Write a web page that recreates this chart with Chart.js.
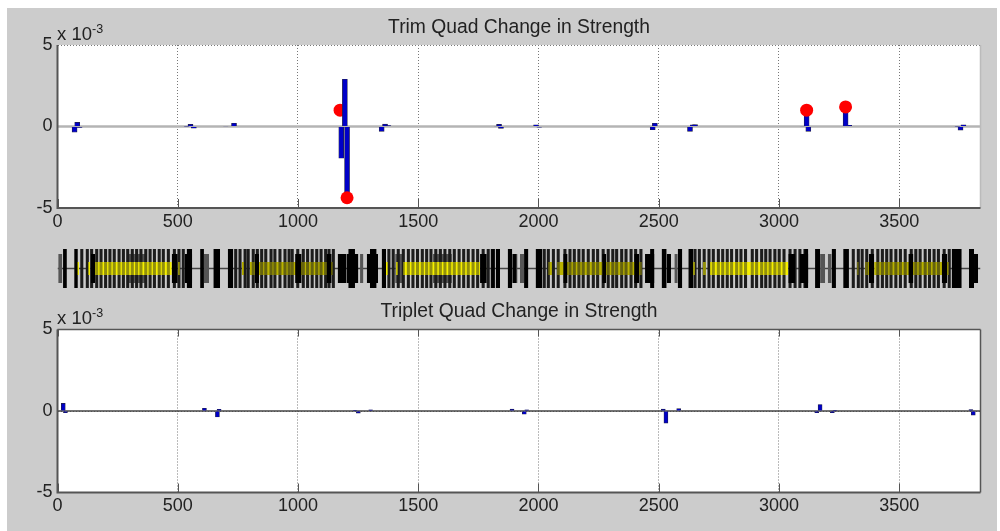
<!DOCTYPE html>
<html>
<head>
<meta charset="utf-8">
<script src="https://cdn.jsdelivr.net/npm/chart.js"></script>
<style>
    html, body { margin: 0; background: #fff; overflow: hidden; }
    #panel { position: absolute; left: 7px; top: 8px; width: 990px; height: 523px; background: #cccccc; }
    canvas { position: absolute; left: 7px; filter: blur(0.45px); }
    .exp { position: absolute; left: 57px; font: 18.5px "Liberation Sans", Arial, sans-serif; color: #222; filter: blur(0.3px); white-space: nowrap; }
    .exp sup { font-size: 12.5px; line-height: 0; }
</style>
</head>
<body>
<div id="panel"></div>
<canvas id="trimChart" width="990" height="225" style="top:8px"></canvas>
<canvas id="latticeChart" width="990" height="39" style="top:249px"></canvas>
<canvas id="tripletChart" width="990" height="231" style="top:300px"></canvas>
<div class="exp" style="top:23px">x 10<sup>-3</sup></div>
<div class="exp" style="top:307px">x 10<sup>-3</sup></div>
<script>
const xMax = 3838;
const xTicks = [0, 500, 1000, 1500, 2000, 2500, 3000, 3500];

// strength change, in units of 1e-3
const trimS = [71, 82, 92, 537, 553, 567, 700, 734, 1180, 1195, 1204, 1348, 1362, 1376, 1826, 1836, 1844, 1990, 2003, 2475, 2484, 2630, 2642, 2651, 3098, 3115, 3122, 3277, 3292, 3742, 3755, 3767];
const trimValues = [-0.35, 0.25, -0.05, 0.02, 0.13, -0.1, -0.03, 0.2, -1.95, 2.9, -4.37, -0.3, 0.15, 0.05, 0.03, 0.13, -0.12, 0.1, -0.04, -0.2, 0.2, -0.3, 0.1, 0.12, 0.03, 1.0, -0.3, 1.15, 0.07, 0.02, -0.22, 0.1];
const redBackS = [1175];
const redBackValues = [1.0];
const redFrontS = [1204, 3115, 3277];
const redFrontValues = [-4.37, 1.0, 1.2];

const tripletS = [24, 33, 611, 665, 672, 1237, 1251, 1302, 1890, 1941, 1951, 2519, 2530, 2583, 3157, 3171, 3222, 3233, 3798, 3808];
const tripletValues = [0.47, -0.1, 0.17, -0.37, 0.1, 0.02, -0.13, 0.07, 0.12, -0.2, 0.07, 0.12, -0.74, 0.15, -0.1, 0.4, -0.1, 0.02, 0.08, -0.25];

// lattice magnets along s
const magnetS = [
    77, 101, 124, 142, 163, 181, 200, 218, 236, 256, 274, 292, 311, 329, 347, 367, 385, 403, 423, 440, 461, 486, 505, 523, 548,
    717, 741, 759, 780, 793, 814, 831, 849, 866, 888, 904, 925, 946, 963, 976, 999, 1022, 1040, 1059, 1078, 1096, 1115, 1129, 1147,
    1358, 1378, 1396, 1417, 1438, 1459, 1478, 1497, 1517, 1535, 1553, 1573, 1592, 1611, 1631, 1650, 1670, 1689, 1708, 1728, 1747, 1770, 1791, 1808, 1830,
    2002, 2024, 2041, 2062, 2082, 2110, 2131, 2149, 2168, 2186, 2207, 2228, 2246, 2269, 2290, 2309, 2325, 2346, 2364, 2385, 2404, 2426,
    2630, 2651, 2669, 2689, 2709, 2727, 2748, 2766, 2785, 2803, 2824, 2842, 2861, 2889, 2907, 2928, 2945, 2963, 2983, 3001, 3021, 3046, 3067, 3087, 3108,
    3281, 3309, 3330, 3346, 3365, 3388, 3411, 3430, 3448, 3466, 3486, 3505, 3525, 3550, 3569, 3587, 3608, 3626, 3645, 3663, 3687, 3708
];
const tallBlocks = [[23, 39], [70, 84], [537, 560], [593, 609], [648, 676], [708, 731], [1209, 1237], [1299, 1327], [1348, 1366], [1803, 1819], [1822, 1840], [1872, 1891], [1940, 1958], [1988, 2016], [2464, 2482], [2512, 2533], [2579, 2598], [2626, 2644], [3105, 3122], [3150, 3171], [3219, 3237], [3267, 3291], [3718, 3760], [3790, 3811]];
const midBlocks = [[139, 156], [475, 500], [530, 560], [821, 838], [988, 1015], [1119, 1140], [1165, 1202], [1202, 1251], [1286, 1333], [1757, 1785], [1891, 1909], [2103, 2121], [2265, 2282], [2398, 2418], [2443, 2482], [2533, 2551], [3039, 3067], [3087, 3122], [3374, 3396], [3538, 3559], [3677, 3700], [3811, 3828]];
const grayBlocks = [[3, 20], [288, 364], [609, 630], [1258, 1272], [1404, 1437], [1561, 1640], [1902, 1913], [1923, 1940], [2565, 2579], [3171, 3192], [3203, 3219]];
const brightYellow = [[81, 89], [127, 135], [156, 475], [500, 509], [1362, 1374], [1408, 1416], [1437, 1757], [1785, 1786], [2643, 2651], [2684, 2696], [2713, 3039]];
const dimYellow = [[767, 776], [800, 1145], [2040, 2056], [2077, 2430], [3324, 3332], [3358, 3383], [3396, 3708]];

const fontFamily = '"Liberation Sans", Arial, sans-serif';

function toPoints(xs, ys) {
    return xs.map(function (x, i) { return { x: x, y: ys[i] }; });
}

// draws the frame and the inward ticks like the original plots
const framePlugin = {
    id: 'frame',
    afterDatasetsDraw: function (chart, args, opts) {
        const area = chart.chartArea;
        const c = chart.ctx;
        const x = chart.scales.x;
        c.save();
        c.strokeStyle = '#555';
        c.lineWidth = 1;
        x.ticks.forEach(function (t) {
            const px = Math.round(x.getPixelForValue(t.value)) + 0.5;
            c.beginPath();
            c.moveTo(px, area.bottom);
            c.lineTo(px, area.bottom - 9);
            if (opts.topTicks) {
                c.moveTo(px, area.top);
                c.lineTo(px, area.top + 7);
            }
            c.stroke();
        });
        c.lineWidth = 1.5;
        c.strokeStyle = opts.rightColor;
        c.beginPath();
        c.moveTo(area.right, area.top);
        c.lineTo(area.right, area.bottom);
        c.stroke();
        if (opts.topColor) {
            c.strokeStyle = opts.topColor;
            c.beginPath();
            c.moveTo(area.left, area.top);
            c.lineTo(area.right, area.top);
            c.stroke();
        }
        c.strokeStyle = '#555';
        c.lineWidth = 2;
        c.beginPath();
        c.moveTo(area.left, area.top);
        c.lineTo(area.left, area.bottom);
        c.lineTo(area.right, area.bottom);
        c.stroke();
        c.restore();
    }
};

const whitePlot = {
    id: 'whitePlot',
    beforeDraw: function (chart) {
        const a = chart.chartArea;
        chart.ctx.fillStyle = '#fff';
        chart.ctx.fillRect(a.left, a.top, a.width, a.height);
    }
};

function plotOptions(title, titlePad, bottomHeight, frame) {
    return {
        responsive: false,
        animation: false,
        layout: { padding: { left: 0, right: 16.5, top: 0, bottom: 0 } },
        plugins: {
            legend: { display: false },
            tooltip: { enabled: false },
            frame: frame,
            title: {
                display: true,
                text: title,
                fullSize: false,
                color: '#222',
                padding: titlePad,
                font: { family: fontFamily, size: 19.3, weight: 'normal', lineHeight: 1 }
            }
        },
        scales: {
            x: {
                type: 'linear',
                min: 0,
                max: xMax,
                offset: false,
                afterFit: function (scale) { scale.height = bottomHeight; },
                afterBuildTicks: function (scale) {
                    scale.ticks = xTicks.map(function (v) { return { value: v }; });
                },
                grid: { offset: false, drawTicks: false, color: '#777' },
                border: { display: false, dash: [1, 2] },
                ticks: {
                    autoSkip: false,
                    maxRotation: 0,
                    padding: 3,
                    color: '#222',
                    font: { family: fontFamily, size: 18 },
                    callback: function (v) { return String(v); }
                }
            },
            y: {
                min: -5,
                max: 5,
                afterFit: function (scale) { scale.width = 50.5; },
                grid: { drawTicks: false, color: '#777' },
                border: { display: false, dash: [1, 2] },
                ticks: { stepSize: 5, padding: 5, color: '#222', font: { family: fontFamily, size: 18 } }
            }
        }
    };
}

new Chart(document.getElementById('trimChart'), {
    type: 'bar',
    data: {
        datasets: [
            { type: 'scatter', data: toPoints(redFrontS, redFrontValues), backgroundColor: '#ff0000', borderWidth: 0, pointRadius: 6.5, order: 1 },
            { data: toPoints(trimS, trimValues), backgroundColor: '#0000c8', borderColor: '#222244', borderWidth: 0.7, barThickness: 5, grouped: false, order: 2 },
            { type: 'scatter', data: toPoints(redBackS, redBackValues), backgroundColor: '#ff0000', borderWidth: 0, pointRadius: 6.5, order: 3 },
            { type: 'line', data: toPoints([0, xMax], [0, 0]), borderColor: '#b4b4b4', borderWidth: 2.5, pointRadius: 0, order: 4 }
        ]
    },
    options: plotOptions('Trim Quad Change in Strength', { top: 10, bottom: 7.7 }, 25, { rightColor: '#bbbbbb', topColor: null, topTicks: false }),
    plugins: [whitePlot, framePlugin]
});

new Chart(document.getElementById('tripletChart'), {
    type: 'bar',
    data: {
        datasets: [
            { data: toPoints(tripletS, tripletValues), backgroundColor: '#0000c8', borderColor: '#222244', borderWidth: 0.7, barThickness: 4, grouped: false, order: 1 },
            { type: 'line', data: toPoints([0, xMax], [0, 0]), borderColor: '#444444', borderWidth: 1.6, pointRadius: 0, order: 2 }
        ]
    },
    options: plotOptions('Triplet Quad Change in Strength', { top: 2, bottom: 8.2 }, 38.5, { rightColor: '#555555', topColor: '#555555', topTicks: true }),
    plugins: [whitePlot, framePlugin]
});

// one fill per colour, broken between the blocks
function blockDataset(blocks, half, color, order) {
    const pts = [];
    blocks.forEach(function (b) {
        pts.push({ x: b[0], y: half }, { x: b[1], y: half }, { x: b[1], y: null });
    });
    return { type: 'line', data: pts, borderWidth: 0, pointRadius: 0, tension: 0, spanGaps: false, fill: { value: -half }, backgroundColor: color, borderColor: color, order: order };
}

// yellow goes under and over the magnets so they show through as stripes
new Chart(document.getElementById('latticeChart'), {
    type: 'bar',
    data: {
        datasets: [
            blockDataset(tallBlocks, 1, '#000', 1),
            blockDataset(midBlocks, 0.74, '#000', 2),
            blockDataset(brightYellow, 0.33, 'rgba(245,240,0,0.55)', 3),
            blockDataset(dimYellow, 0.33, 'rgba(190,185,0,0.45)', 4),
            { data: magnetS.map(function (s) { return { x: s, y: [-1, 1] }; }), backgroundColor: '#1c1c1c', barThickness: 2.4, grouped: false, order: 5 },
            blockDataset(brightYellow, 0.33, '#f5f000', 6),
            blockDataset(dimYellow, 0.33, '#b4ae00', 7),
            blockDataset(grayBlocks, 0.74, '#555', 8),
            { type: 'line', data: toPoints([0, xMax], [0, 0]), borderColor: '#444', borderWidth: 1.5, pointRadius: 0, order: 9 }
        ]
    },
    options: {
        responsive: false,
        animation: false,
        layout: { padding: { left: 50.5, right: 16.5, top: 0, bottom: 0 } },
        plugins: { legend: { display: false }, tooltip: { enabled: false } },
        scales: {
            x: { type: 'linear', display: false, min: 0, max: xMax, offset: false, grid: { offset: false } },
            y: { display: false, min: -1, max: 1 }
        }
    }
});
</script>
</body>
</html>
